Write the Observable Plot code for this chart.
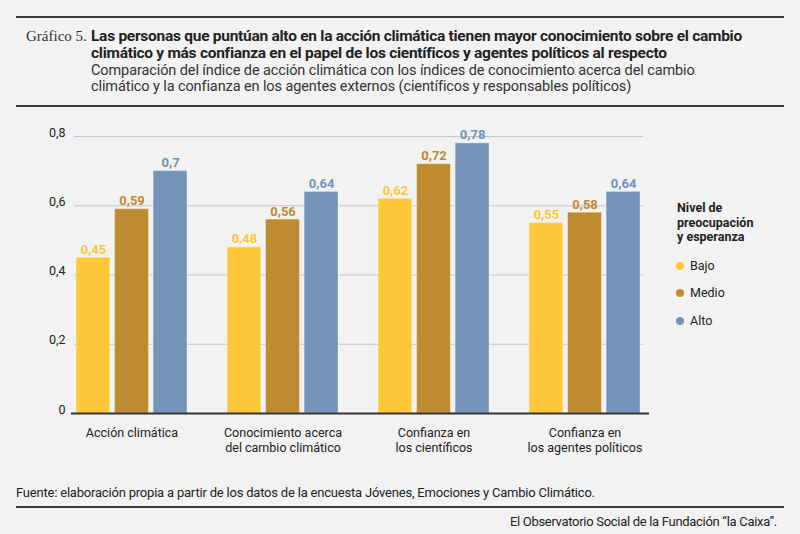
<!DOCTYPE html>
<html>
<head>
<meta charset="utf-8">
<script src="https://cdn.jsdelivr.net/npm/d3@7"></script>
<script src="https://cdn.jsdelivr.net/npm/@observablehq/plot@0.6"></script>
<style>
  html, body { margin: 0; padding: 0; background: #f2f2f2; }
  #page { position: relative; width: 800px; height: 534px; background: #f2f2f2; overflow: hidden; color: #222; }
  .rule { position: absolute; left: 16px; width: 768px; height: 2px; background: #3a3a3a; }
  .narrow { font-family: "Roboto", sans-serif; }
  #num { position: absolute; left: 26px; top: 28px; font-family: "Liberation Serif", serif; font-size: 15px; line-height: 17px; color: #333; }
  #title { position: absolute; left: 91px; top: 28px; font-size: 15.5px; line-height: 17px; font-weight: bold; color: #222; letter-spacing: -0.27px; white-space: nowrap; }
  #subtitle { position: absolute; left: 91px; top: 63px; font-size: 14.5px; line-height: 16px; color: #333; letter-spacing: -0.1px; white-space: nowrap; }
  #chart { position: absolute; left: 0; top: 108px; }
  #legend { position: absolute; left: 677px; top: 201px; font-family: Roboto, sans-serif; font-size: 12.5px; color: #222; }
  #legend .lt { font-weight: bold; line-height: 14.5px; }
  #legend .it { position: relative; height: 27.5px; line-height: 27.5px; padding-left: 13px; }
  #legend .it span.dot { position: absolute; left: -1px; top: 10px; width: 8px; height: 8px; border-radius: 50%; }
  #legend .items { margin-top: 7px; }
  #source { position: absolute; left: 16px; top: 485px; font-size: 13px; color: #222; letter-spacing: -0.2px; white-space: nowrap; }
  #credit { position: absolute; right: 23px; top: 514px; font-size: 13px; color: #222; letter-spacing: -0.3px; white-space: nowrap; }
</style>
</head>
<body>
<div id="page">
  <div class="rule" style="top:16px"></div>
  <div id="num">Gráfico 5.</div>
  <div id="title" class="narrow">Las personas que puntúan alto en la acción climática tienen mayor conocimiento sobre el cambio<br>climático y más confianza en el papel de los científicos y agentes políticos al respecto</div>
  <div id="subtitle" class="narrow">Comparación del índice de acción climática con los índices de conocimiento acerca del cambio<br>climático y la confianza en los agentes externos (científicos y responsables políticos)</div>
  <div class="rule" style="top:105px"></div>
  <div id="chart"></div>
  <div id="legend"></div>
  <div id="source" class="narrow">Fuente: elaboración propia a partir de los datos de la encuesta Jóvenes, Emociones y Cambio Climático.</div>
  <div class="rule" style="top:506px"></div>
  <div id="credit" class="narrow">El Observatorio Social de la Fundación “la Caixa”.</div>
</div>
<script>
// ---- Data ----
const grupos = ["Acción climática", "Conocimiento acerca del cambio climático", "Confianza en los científicos", "Confianza en los agentes políticos"];
const grupoEtiquetas = ["Acción climática", "Conocimiento acerca\ndel cambio climático", "Confianza en\nlos científicos", "Confianza en\nlos agentes políticos"];
const series = ["Bajo", "Medio", "Alto"];
const bajo = [0.45, 0.48, 0.62, 0.55];
const medio = [0.59, 0.56, 0.72, 0.58];
const alto = [0.70, 0.64, 0.78, 0.64];
const colores = ["#ffc73a", "#be8b30", "#7393b8"];
const yTicks = [0, 0.2, 0.4, 0.6, 0.8];
const yTickLabels = ["0", "0,2", "0,4", "0,6", "0,8"];
const legendTitle = "Nivel de\npreocupación\ny esperanza";

const valores = [bajo, medio, alto];
const data = [];
series.forEach((s, k) => grupos.forEach((g, i) => data.push({grupo: g, serie: s, valor: valores[k][i]})));

// ---- Layout ----
const W = 800, H = 360;
const mL = 74, mR = W - 643, mT = 28, mB = 55;
const padIn = 40 / 152, padOut = 1 / 152;
const step = (W - mL - mR) / (grupos.length - padIn + 2 * padOut);
const band = step * (1 - padIn);
const barPad = 0.1;
const barStep = band / (series.length - barPad);
const barW = barStep * (1 - barPad);

const fmt = v => String(v).replace(".", ",");
const etiqueta = new Map(grupos.map((g, i) => [g, grupoEtiquetas[i]]));

const marks = [
  Plot.ruleY(yTicks.slice(1), {y: d => d, stroke: "#c6c6c6", strokeWidth: 1}),
  Plot.text(yTicks, {y: d => d, text: (d, i) => yTickLabels[i], frameAnchor: "left", textAnchor: "end", dx: -9, dy: -4, fill: "#222", fontSize: 12.5})
];
series.forEach((s, k) => {
  const sub = data.filter(d => d.serie === s);
  marks.push(Plot.barY(sub, {
    x: "grupo", y: "valor", fill: "serie",
    insetLeft: k * barStep, insetRight: band - k * barStep - barW,
    stroke: "#ffffff", strokeOpacity: 0.35, strokeWidth: 1
  }));
  marks.push(Plot.text(sub, {
    x: "grupo", y: "valor", text: d => fmt(d.valor), fill: "serie",
    dx: (k - 1) * barStep, dy: -4, lineAnchor: "bottom",
    fontWeight: "bold", fontSize: 13
  }));
});
marks.push(Plot.ruleY([0], {stroke: "#333", strokeWidth: 2, insetLeft: -3, insetRight: -6}));
marks.push(Plot.text(grupos, {x: d => d, text: d => etiqueta.get(d), frameAnchor: "bottom", lineAnchor: "top", dy: 13, lineHeight: 1.17, fill: "#222", fontSize: 12.5}));

const chart = Plot.plot({
  width: W, height: H,
  marginLeft: mL, marginRight: mR, marginTop: mT, marginBottom: mB,
  style: {background: "transparent", fontFamily: "Roboto, sans-serif", overflow: "visible"},
  x: {type: "band", domain: grupos, paddingInner: padIn, paddingOuter: padOut, axis: null},
  y: {domain: [0, 0.8], axis: null},
  color: {domain: series, range: colores},
  marks
});
document.getElementById("chart").appendChild(chart);

// ---- Legend ----
const lg = document.getElementById("legend");
const t = document.createElement("div");
t.className = "lt";
t.innerHTML = legendTitle.split("\n").join("<br>");
lg.appendChild(t);
const items = document.createElement("div");
items.className = "items";
series.forEach((s, k) => {
  const it = document.createElement("div");
  it.className = "it";
  it.innerHTML = `<span class="dot" style="background:${colores[k]}"></span>${s}`;
  items.appendChild(it);
});
lg.appendChild(items);
</script>
</body>
</html>
